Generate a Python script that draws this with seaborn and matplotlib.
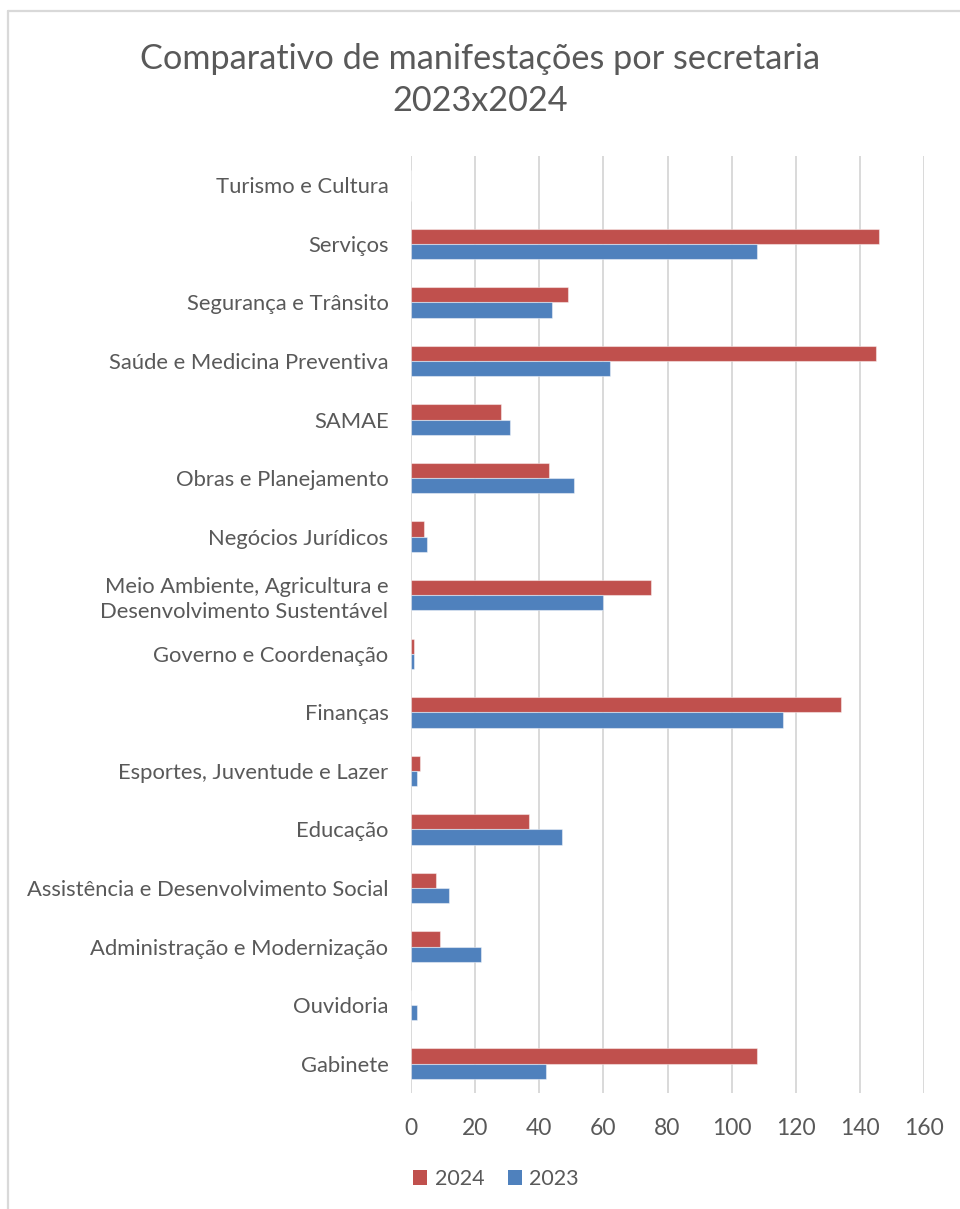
import matplotlib
matplotlib.use("Agg")
import matplotlib.pyplot as plt
from matplotlib.lines import Line2D
from matplotlib.patches import Patch
import seaborn as sns
import pandas as pd

# Secretarias, listed top to bottom
categories = [
    "Turismo e Cultura",
    "Serviços",
    "Segurança e Trânsito",
    "Saúde e Medicina Preventiva",
    "SAMAE",
    "Obras e Planejamento",
    "Negócios Jurídicos",
    "Meio Ambiente, Agricultura e\nDesenvolvimento Sustentável",
    "Governo e Coordenação",
    "Finanças",
    "Esportes, Juventude e Lazer",
    "Educação",
    "Assistência e Desenvolvimento Social",
    "Administração e Modernização",
    "Ouvidoria",
    "Gabinete",
]
values_2024 = [0, 146, 49, 145, 28, 43, 4, 75, 1, 134, 3, 37, 8, 9, 0, 108]
values_2023 = [0, 108, 44, 62, 31, 51, 5, 60, 1, 116, 2, 47, 12, 22, 2, 42]
years = ["2024", "2023"]
x_ticks = [0, 20, 40, 60, 80, 100, 120, 140, 160]

title = "Comparativo de manifestações por secretaria\n2023x2024"

colors = {"2024": "#C0504D", "2023": "#4F81BD"}
text_color = "#595959"
grid_color = "#D9D9D9"

sns.set_theme(style="white")
plt.rcParams["font.family"] = ["Lato", "DejaVu Sans"]

df = pd.DataFrame({
    "Secretaria": categories * 2,
    "Ano": ["2024"] * len(categories) + ["2023"] * len(categories),
    "Manifestações": values_2024 + values_2023,
})

W, H = 960, 1209
fig = plt.figure(figsize=(W / 100, H / 100), dpi=100)
ax = fig.add_axes([410.7 / W, 1 - 1093 / H, (924.3 - 410.7) / W, (1093 - 156) / H])

sns.barplot(
    data=df, y="Secretaria", x="Manifestações", hue="Ano",
    order=categories, hue_order=years, palette=colors, saturation=1,
    orient="h", width=0.52, gap=0, ax=ax, legend=False,
    edgecolor=(1, 1, 1, 0.45), linewidth=0.8, zorder=3,
)

ax.set_xlim(0, 160)
ax.set_xticks(x_ticks)
ax.set_xticklabels([str(t) for t in x_ticks])
ax.set_xlabel("")
ax.set_ylabel("")
for s in ax.spines.values():
    s.set_visible(False)
ax.grid(axis="x", color=grid_color, linewidth=1.4, zorder=0)
ax.grid(axis="y", visible=False)
ax.set_axisbelow(True)
ax.tick_params(axis="x", length=0, pad=18, labelsize=16.5, colors=text_color)
ax.tick_params(axis="y", length=0, pad=16, labelsize=15.8, colors=text_color)
for lbl in ax.get_yticklabels():
    lbl.set_multialignment("right")
    lbl.set_linespacing(1.32)

fig.text(0.5, 1 - 80 / H, title, ha="center", va="center", fontsize=24.7,
         color=text_color, linespacing=1.42)

handles = [Patch(facecolor=colors[y], edgecolor="none") for y in years]
fig.legend(handles, years, loc="center", bbox_to_anchor=(496 / W, 1 - 1179 / H),
           ncol=2, frameon=False, fontsize=15.5, labelcolor=text_color,
           handlelength=0.65, handleheight=0.65, handletextpad=0.35,
           columnspacing=1.1)

# chart area border (left and top edges)
fig.add_artist(Line2D([8 / W, 8 / W], [0, 1 - 11 / H], transform=fig.transFigure,
                      color=grid_color, linewidth=1.6))
fig.add_artist(Line2D([8 / W, 1], [1 - 11 / H, 1 - 11 / H], transform=fig.transFigure,
                      color=grid_color, linewidth=1.6))

fig.savefig("out.png", dpi=100, facecolor="white")
